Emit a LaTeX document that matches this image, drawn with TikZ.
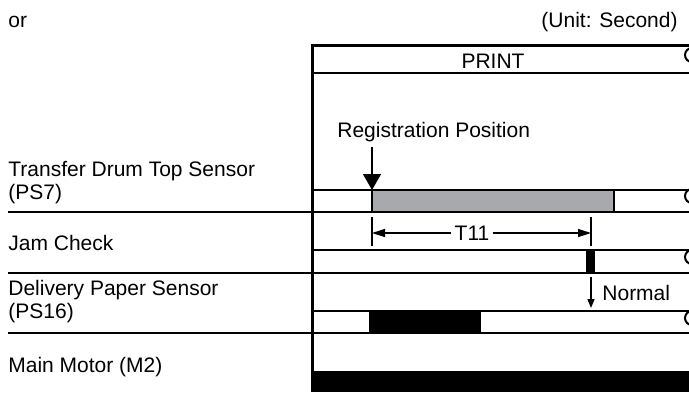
\documentclass[tikz,border=0pt]{standalone}
\usepackage{fontspec}
\setmainfont{Liberation Sans}
\usetikzlibrary{arrows.meta,positioning}
\definecolor{tcgray}{HTML}{A8A9AD}

\begin{document}
\begin{tikzpicture}[x=0.5pt, y=-0.5pt, font=\fontsize{10.5}{11.5}\selectfont,
  sigline/.style={line width=1pt},
  frameline/.style={line width=1.5pt},
  dimline/.style={line width=0.7pt},
  lbl/.style={inner sep=0pt}]
  \useasboundingbox (0,0) rectangle (689,392);
  % header
  \node[lbl, anchor=base west] (or) at (8,27) {or};
  \node[lbl, anchor=base east] (unit) at (678,27) {(Unit: Second)};
  \draw[frameline] (689,45) -- (312,45) -- (312,392);
  \draw[sigline] (312,73) -- (689,73);
  \node[lbl] (print) at (493,61) {PRINT};
  % row labels
  \node[lbl, anchor=west, align=left] (ps7) at (8,183) {Transfer Drum Top Sensor\\(PS7)};
  \node[lbl, anchor=base west] (jam) at (8,250) {Jam Check};
  \node[lbl, anchor=west, align=left] (ps16) at (8,302) {Delivery Paper Sensor\\(PS16)};
  \node[lbl, anchor=base west] (m2) at (8,372) {Main Motor (M2)};
  % row dividers and signal levels
  \foreach \y in {212,273,333}
    \draw[sigline] (8,\y) -- (689,\y);
  \foreach \y in {190,250,311}
    \draw[sigline] (312,\y) -- (689,\y);
  % pulses
  \filldraw[fill=tcgray, draw=black, sigline] (372,190) rectangle (614,212);
  \fill (586,250) rectangle (595,273);
  \fill (369,311) rectangle (481,333);
  \fill (312,371) rectangle (689,392);
  % breaks at the right edge
  \foreach \y in {55,196,257,318}
    \draw[sigline] (692,\y) circle (7);
  % registration position
  \node[lbl, anchor=base west] (reg) at (337,137) {Registration Position};
  \coordinate (regtop) at (372,147);
  \coordinate (regtip) at (372,190);
  \draw[dimline, -{Triangle[width=9pt, length=8pt]}] (regtop) -- (regtip);
  % T11
  \coordinate (t11a) at (372,233);
  \coordinate (t11b) at (591,233);
  \draw[dimline] (372,217) -- (372,246);
  \draw[dimline] (591,217) -- (591,246);
  \node[lbl, inner xsep=1.5pt] (t11) at (472,233) {T11};
  \draw[dimline, -{Triangle[width=4pt, length=6.5pt]}] (t11.west) -- (t11a);
  \draw[dimline, -{Triangle[width=4pt, length=6.5pt]}] (t11.east) -- (t11b);
  % normal
  \coordinate (normtop) at (591,277);
  \coordinate (normtip) at (591,308);
  \draw[dimline, -{Triangle[width=3.5pt, length=4.5pt]}] (normtop) -- (normtip);
  \node[lbl, anchor=base west] (normal) at (602,300) {Normal};
\end{tikzpicture}
\end{document}
